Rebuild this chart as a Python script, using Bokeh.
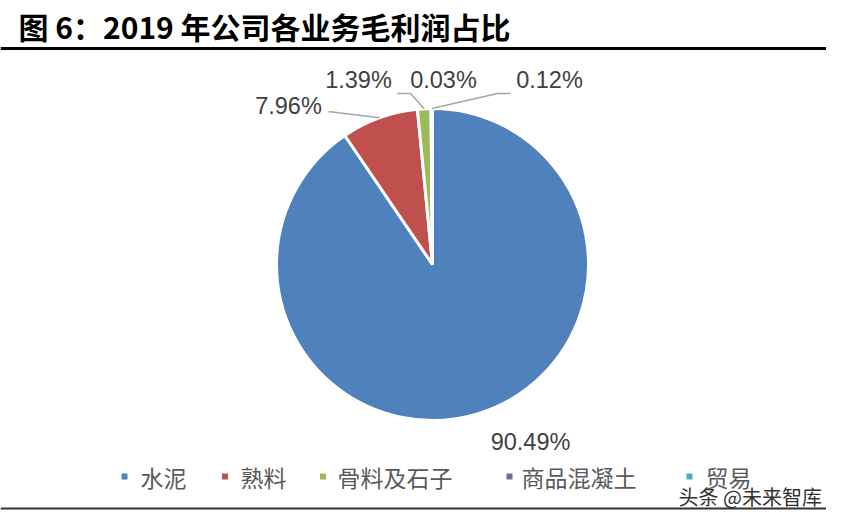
import math
from bokeh.plotting import figure
from bokeh.models import Range1d, ColumnDataSource
from bokeh.core.properties import value
from bokeh.embed import file_html
from bokeh.resources import INLINE

# ---- data ----
categories = ["水泥", "熟料", "骨料及石子", "商品混凝土", "贸易"]
shares = [90.49, 7.96, 1.39, 0.03, 0.12]
colors = ["#4F81BD", "#C0504D", "#9BBB59", "#8064A2", "#4BACC6"]
title_text = "图 6：2019 年公司各业务毛利润占比"
watermark = "头条 @未来智库"

# ---- layout (picture pixel coordinates) ----
W, H = 826, 510
def Y(y):
    return H - y

cx, cy, R = 432, 264, 156
label_pos = [(530, 441), (288, 105), (358, 79), (443, 79), (549, 79)]
leader_elbows = [None, [(328, 111)], [(397, 93), (410, 93)], None, [(510, 93), (497, 93)]]
legend_marker_x = [124, 224.5, 322.5, 509, 689]
legend_text_x = [140, 240, 337, 521, 705]
legend_y = 476

p = figure(width=W, height=H, output_backend="svg", toolbar_location=None,
           x_range=Range1d(0, W), y_range=Range1d(0, H), min_border=0)
p.axis.visible = False
p.grid.visible = False
p.outline_line_color = None
p.background_fill_color = "white"

total = sum(shares)
starts, ends, mids = [], [], []
cum = 0.0
for s in shares:
    a0 = math.pi / 2 - 2 * math.pi * cum / total
    cum += s
    a1 = math.pi / 2 - 2 * math.pi * cum / total
    starts.append(a0)
    ends.append(a1)
    mids.append((a0 + a1) / 2)

src = ColumnDataSource(dict(x=[cx] * len(shares), y=[Y(cy)] * len(shares),
                            start=starts, end=ends, color=colors))
p.wedge(x="x", y="y", radius=R, start_angle="start", end_angle="end",
        direction="clock", fill_color="color", line_color="white",
        line_width=3, source=src)

# leader lines
xs, ys = [], []
for i, el in enumerate(leader_elbows):
    if el is None:
        continue
    px = cx + R * math.cos(mids[i])
    py = cy - R * math.sin(mids[i])
    xs.append([e[0] for e in el] + [px])
    ys.append([Y(e[1]) for e in el] + [Y(py)])
p.multi_line(xs=xs, ys=ys, line_color="#A6A6A6", line_width=1.5)

# data labels
p.text(x=[q[0] for q in label_pos], y=[Y(q[1]) for q in label_pos],
       text=[f"{s:.2f}%" for s in shares], text_align="center",
       text_baseline="middle", text_font=value("Liberation Sans"),
       text_font_size="23.5px", text_color="#404040")

# title and rules
p.text(x=[18], y=[Y(25)], text=[title_text], text_align="left",
       text_baseline="middle", text_font=value("Noto Sans CJK SC"),
       text_font_style="bold", text_font_size="30px", text_color="#000000")
p.segment(x0=[0], y0=[Y(48)], x1=[826], y1=[Y(48)], line_color="#000000", line_width=3)
p.segment(x0=[0], y0=[Y(508)], x1=[826], y1=[Y(508)], line_color="#333333", line_width=2)

# legend
p.scatter(x=legend_marker_x, y=[Y(legend_y)] * 5, marker="square", size=6,
          fill_color=colors, line_color=None)
p.text(x=legend_text_x, y=[Y(legend_y)] * 5, text=categories, text_align="left",
       text_baseline="middle", text_font=value("Noto Sans CJK SC"),
       text_font_size="23px", text_color="#595959")

# watermark
p.text(x=[678], y=[Y(496)], text=[watermark], text_align="left",
       text_baseline="middle", text_font=value("Noto Sans CJK SC"),
       text_font_size="20px", text_color="#333333")

open("out.html", "w").write(file_html(p, INLINE))
